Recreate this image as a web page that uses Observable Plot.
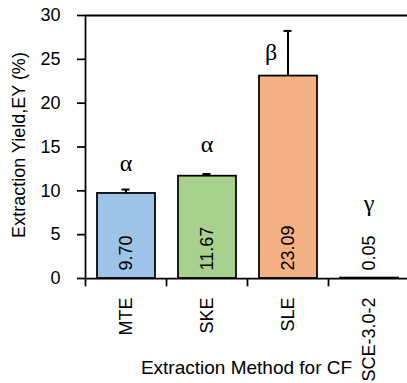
<!DOCTYPE html>
<html><head><meta charset="utf-8">
<script src="https://cdn.jsdelivr.net/npm/d3@7"></script>
<script src="https://cdn.jsdelivr.net/npm/@observablehq/plot@0.6"></script>
<style>html,body{margin:0;padding:0;background:#fff} svg{display:block}</style>
</head><body><div id="chart"></div>
<script>
const methods = ["MTE", "SKE", "SLE", "SCE-3.0-2"];
const yields = [9.70, 11.67, 23.09, 0.05];
const errors = [0.45, 0.25, 5.15, 0];
const valueLabels = ["9.70", "11.67", "23.09", "0.05"];
const groupLetters = ["α", "α", "β", "γ"];
const letterY = [13.1, 15.3, 25.8, 8.6];
const barColors = ["#9DC3E6", "#A9D18E", "#F4B183", "#7F7F7F"];
const yTicks = [0, 5, 10, 15, 20, 25, 30];

const data = methods.map((m, i) => ({
  method: m, value: yields[i], err: errors[i], label: valueLabels[i],
  letter: groupLetters[i], ly: letterY[i]
}));

const chart = Plot.plot({
  width: 407,
  height: 383,
  marginLeft: 85,
  marginRight: 0,
  marginTop: 15,
  marginBottom: 105,
  style: {fontFamily: "'Liberation Sans', Arial, sans-serif", fontSize: "18px", color: "#000", background: "#fff"},
  x: {domain: methods, range: [85, 409], padding: 0, axis: null},
  y: {domain: [0, 30], axis: null},
  color: {domain: methods, range: barColors},
  marks: [
    Plot.ruleY([30], {strokeWidth: 2}),
    Plot.barY(data, {x: "method", y: "value", fill: "method", stroke: "#000", strokeWidth: 1.75, insetLeft: 12, insetRight: 11}),
    Plot.ruleX(data.filter(d => d.err > 0), {x: "method", y1: "value", y2: d => d.value + d.err, strokeWidth: 2}),
    Plot.tickY(data.filter(d => d.err > 0), {x: "method", y: d => d.value + d.err, strokeWidth: 2, insetLeft: 36.5, insetRight: 36.5}),
    Plot.ruleX([methods[0]], {x: d => d, dx: -40.5, y1: 0, y2: 30, strokeWidth: 1.75}),
    Plot.ruleY([0], {strokeWidth: 1.75}),
    Plot.ruleX(methods, {x: d => d, dx: -40.5, y1: 0, y2: -0.95, strokeWidth: 1.75}),
    Plot.axisY({ticks: yTicks, tickSize: 8, tickPadding: 17, label: null, strokeWidth: 1.75, fontSize: 18}),
    Plot.axisX({tickRotate: -90, tickSize: 0, tickPadding: 19, label: null, fontSize: 18}),
    Plot.text(data, {x: "method", y: 0, text: "label", rotate: -90, textAnchor: "start", dy: -8, fontSize: 18}),
    Plot.text(data.filter(d => d.method !== "SLE"), {x: "method", y: "ly", text: "letter", fontFamily: "'Liberation Serif', serif", fontSize: 24}),
    Plot.text(data.filter(d => d.method === "SLE"), {x: "method", y: "ly", text: "letter", dx: -17, fontFamily: "'Liberation Serif', serif", fontSize: 24}),
    Plot.text(["Extraction Yield,EY (%)"], {frameAnchor: "left", dx: -66, dy: -2, rotate: -90, textAnchor: "middle", lineAnchor: "middle", fontSize: 18}),
    Plot.text(["Extraction Method for CF"], {frameAnchor: "bottom", dy: 89, textAnchor: "middle", lineAnchor: "middle", fontSize: 19})
  ]
});
document.getElementById("chart").appendChild(chart);
</script>
</body></html>
